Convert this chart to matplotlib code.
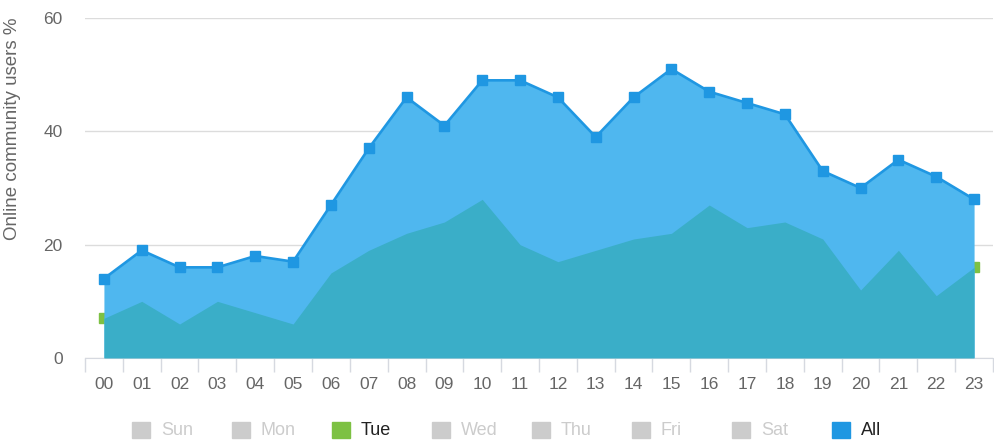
import matplotlib
matplotlib.use('Agg')

import matplotlib.pyplot as plt
from matplotlib.patches import Rectangle

# data
hours = ['00', '01', '02', '03', '04', '05', '06', '07', '08', '09', '10', '11',
         '12', '13', '14', '15', '16', '17', '18', '19', '20', '21', '22', '23']
all_users = [14, 19, 16, 16, 18, 17, 27, 37, 46, 41, 49, 49,
             46, 39, 46, 51, 47, 45, 43, 33, 30, 35, 32, 28]
tue_users = [7, 10, 6, 10, 8, 6, 15, 19, 22, 24, 28, 20,
             17, 19, 21, 22, 27, 23, 24, 21, 12, 19, 11, 16]
legend_names = ['Sun', 'Mon', 'Tue', 'Wed', 'Thu', 'Fri', 'Sat', 'All']
y_ticks = [0, 20, 40, 60]

plt.rcParams['font.family'] = ['Liberation Sans', 'DejaVu Sans']

blue_line = '#1f97e2'
blue_fill = '#4fb7ef'
teal_fill = '#3aaec8'
green = '#7dc143'
grey = '#cccccc'

fig = plt.figure(figsize=(9.94, 4.4), dpi=100)
ax = fig.add_axes([85 / 994, 82 / 440, 908 / 994, 340 / 440])

x = list(range(len(hours)))

# Tue markers sit underneath the All area (only the edges peek out)
ax.plot(x, tue_users, linestyle='none', marker='s', markersize=7,
        color=green, zorder=1)
ax.fill_between(x, 0, all_users, color=blue_fill, linewidth=0, zorder=2)
ax.fill_between(x, 0, tue_users, color=teal_fill, linewidth=0, zorder=3)
ax.plot(x, all_users, color=blue_line, linewidth=1.9, marker='s',
        markersize=7.5, zorder=4)

ax.set_xlim(-0.5, len(hours) - 0.5)
ax.set_ylim(0, 60)

ax.set_yticks(y_ticks)
ax.set_yticklabels([str(v) for v in y_ticks])
ax.yaxis.grid(True, color='#dcdcdc', linewidth=1)
ax.set_axisbelow(True)
ax.tick_params(axis='y', length=0, pad=16, labelsize=12.5, labelcolor='#666666')

ax.set_xticks(x)
ax.set_xticklabels(hours)
ax.set_xticks([i - 0.5 for i in range(len(hours) + 1)], minor=True)
ax.tick_params(axis='x', which='major', length=0, pad=14, labelsize=12.5,
               labelcolor='#666666')
ax.tick_params(axis='x', which='minor', length=10, width=1, color='#d6d9e0')

for side in ['top', 'right', 'left']:
    ax.spines[side].set_visible(False)
ax.spines['bottom'].set_color('#d6d9e0')

ax.set_ylabel('Online community users %', fontsize=13.5, color='#666666')
ax.yaxis.set_label_coords(-0.071, 0.675)

# legend row, only Tue and All are active
for i, name in enumerate(legend_names):
    left = 132 + i * 100
    if name == 'Tue':
        sq, tc = green, '#222222'
    elif name == 'All':
        sq, tc = blue_line, '#222222'
    else:
        sq, tc = grey, grey
    fig.add_artist(Rectangle((left / 994, (440 - 438) / 440), 18 / 994, 16 / 440,
                             transform=fig.transFigure, color=sq))
    fig.text((left + 29) / 994, (440 - 430) / 440, name, fontsize=13,
             color=tc, va='center', ha='left')

plt.savefig('out.png', dpi=100)
plt.close()
